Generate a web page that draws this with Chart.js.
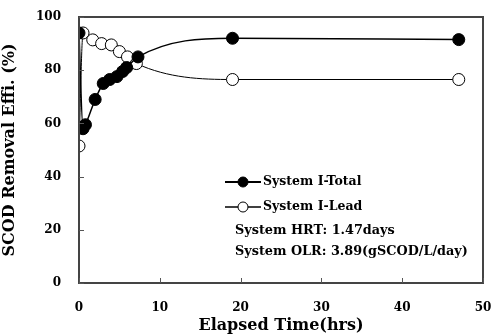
<!DOCTYPE html>
<html>
<head>
<meta charset="utf-8">
<script src="https://cdn.jsdelivr.net/npm/chart.js@4"></script>
<style>
  html, body { margin: 0; padding: 0; background: #fff; }
  #wrap { width: 493px; height: 335px; }
</style>
</head>
<body>
<div id="wrap"><canvas id="chart" width="493" height="335"></canvas></div>
<script>
// Data
const totalTime = [0, 0.5, 0.8, 2, 3, 3.8, 4.7, 5.4, 5.9, 7.3, 19, 47];
const totalEff  = [94, 58, 59.5, 69, 75, 76.5, 77.6, 79.5, 81, 85, 92, 91.5];
const leadTime  = [0, 0.5, 1.7, 2.8, 4, 5, 6, 7.1, 19, 47];
const leadEff   = [51.5, 94, 91.4, 90, 89.5, 87, 85, 82.5, 76.5, 76.5];
const xTicks = [0, 10, 20, 30, 40, 50];
const yTicks = [0, 20, 40, 60, 80, 100];
const legendLabels = ['System I-Total', 'System I-Lead'];
const noteLines = ['System HRT: 1.47days', 'System OLR: 3.89(gSCOD/L/day)'];

const serif = '"DejaVu Serif", "Liberation Serif", serif';

function toPoints(xs, ys) {
    return xs.map((x, i) => ({ x: x, y: ys[i] }));
}

// Frame, inward tick marks, legend and notes
const decorPlugin = {
    id: 'decor',
    afterDraw(chart) {
        const { ctx, chartArea: a, scales } = chart;
        ctx.save();
        ctx.strokeStyle = '#444';
        ctx.lineWidth = 2;
        ctx.strokeRect(a.left, a.top, a.right - a.left, a.bottom - a.top);

        ctx.lineWidth = 1;
        ctx.strokeStyle = '#555';
        xTicks.forEach(v => {
            const px = Math.round(scales.x.getPixelForValue(v)) + 0.5;
            ctx.beginPath();
            ctx.moveTo(px, a.bottom);
            ctx.lineTo(px, a.bottom - 5);
            ctx.stroke();
        });
        yTicks.forEach(v => {
            const py = Math.round(scales.y.getPixelForValue(v)) + 0.5;
            ctx.beginPath();
            ctx.moveTo(a.left, py);
            ctx.lineTo(a.left + 5, py);
            ctx.stroke();
        });

        // legend
        const lx = 225, lw = 36;
        const rows = [182, 207];
        chart.data.datasets.forEach((ds, i) => {
            const y = rows[i];
            ctx.strokeStyle = '#000';
            ctx.lineWidth = ds.borderWidth + 0.5;
            ctx.beginPath();
            ctx.moveTo(lx, y);
            ctx.lineTo(lx + lw, y);
            ctx.stroke();
            ctx.beginPath();
            ctx.arc(lx + lw / 2, y, 5, 0, Math.PI * 2);
            ctx.fillStyle = ds.pointBackgroundColor;
            ctx.fill();
            ctx.lineWidth = 1;
            ctx.stroke();
            ctx.fillStyle = '#000';
            ctx.font = 'bold 12.5px ' + serif;
            ctx.textBaseline = 'middle';
            ctx.textAlign = 'left';
            ctx.fillText(legendLabels[i], lx + lw + 2, y);
        });

        ctx.font = 'bold 12.8px ' + serif;
        ctx.fillStyle = '#000';
        ctx.fillText(noteLines[0], 235, 231);
        ctx.fillText(noteLines[1], 235, 252);
        ctx.restore();
    }
};

new Chart(document.getElementById('chart'), {
    type: 'scatter',
    data: {
        datasets: [
            {
                label: legendLabels[0],
                data: toPoints(totalTime, totalEff),
                showLine: true,
                borderColor: '#000',
                borderWidth: 1.5,
                pointBackgroundColor: '#000',
                pointBorderColor: '#000',
                pointBorderWidth: 1,
                pointRadius: 6,
                cubicInterpolationMode: 'monotone'
            },
            {
                label: legendLabels[1],
                data: toPoints(leadTime, leadEff),
                showLine: true,
                borderColor: '#000',
                borderWidth: 1,
                pointBackgroundColor: '#fff',
                pointBorderColor: '#000',
                pointBorderWidth: 1,
                pointRadius: 6,
                cubicInterpolationMode: 'monotone'
            }
        ]
    },
    options: {
        responsive: false,
        animation: false,
        layout: { padding: { left: 0, top: 17, right: 10, bottom: 0 } },
        plugins: {
            legend: { display: false },
            tooltip: { enabled: false }
        },
        scales: {
            x: {
                type: 'linear',
                min: 0,
                max: 50,
                afterBuildTicks: scale => { scale.ticks = xTicks.map(v => ({ value: v })); },
                afterFit: scale => {
                    scale.height = 52;
                    scale.paddingLeft = 0;
                    scale.paddingRight = 0;
                },
                grid: { display: false },
                border: { display: false },
                ticks: {
                    color: '#000',
                    padding: 10,
                    font: { family: serif, size: 12, weight: 'bold' }
                },
                title: {
                    display: true,
                    text: 'Elapsed Time(hrs)',
                    color: '#000',
                    padding: { top: 0, bottom: 0 },
                    font: { family: serif, size: 16, weight: 'bold' }
                }
            },
            y: {
                min: 0,
                max: 100,
                afterBuildTicks: scale => { scale.ticks = yTicks.map(v => ({ value: v })); },
                afterFit: scale => {
                    scale.width = 79;
                    scale.paddingTop = 0;
                    scale.paddingBottom = 0;
                },
                grid: { display: false },
                border: { display: false },
                ticks: {
                    color: '#000',
                    padding: 10,
                    font: { family: serif, size: 12, weight: 'bold' }
                },
                title: {
                    display: true,
                    text: 'SCOD Removal Effi. (%)',
                    color: '#000',
                    padding: { top: 0, bottom: 0 },
                    font: { family: serif, size: 16, weight: 'bold' }
                }
            }
        }
    },
    plugins: [decorPlugin]
});
</script>
</body>
</html>
